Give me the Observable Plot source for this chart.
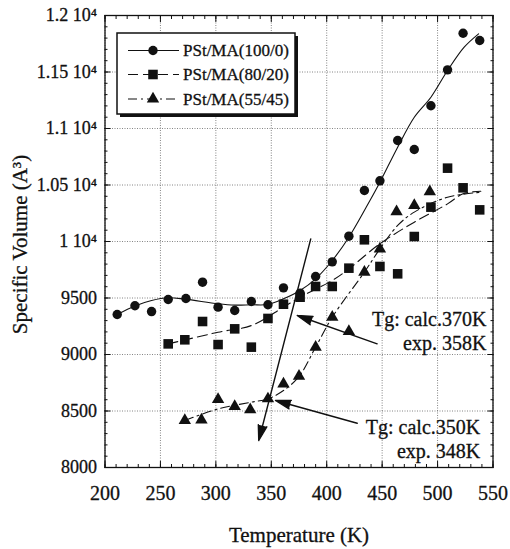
<!DOCTYPE html>
<html>
<head>
<meta charset="utf-8">
<script src="https://cdn.jsdelivr.net/npm/d3@7"></script>
<script src="https://cdn.jsdelivr.net/npm/@observablehq/plot@0.6"></script>
<style>
  body { margin: 0; background: #fff; }
  #chart svg { font-family: "Liberation Serif", "DejaVu Serif", serif; background: #fff; }
</style>
</head>
<body>
<div id="chart"></div>
<script>
// Series names
const seriesNames = ["PSt/MA(100/0)", "PSt/MA(80/20)", "PSt/MA(55/45)"];

// PSt/MA(100/0): measured points
const temp100 = [211, 227, 242, 257, 273, 288, 302, 317, 332, 347, 361, 376, 390, 405, 420, 434, 448, 464, 479, 494, 509, 523, 538];
const vol100  = [9354, 9431, 9380, 9487, 9496, 9640, 9419, 9389, 9469, 9440, 9590, 9543, 9690, 9820, 10047, 10451, 10537, 10894, 10814, 11201, 11519, 11843, 11779];

// PSt/MA(80/20): measured points
const temp80 = [257, 272, 288, 302, 317, 332, 347, 361, 376, 390, 405, 420, 434, 448, 464, 479, 494, 509, 523, 538];
const vol80  = [9094, 9130, 9292, 9088, 9227, 9065, 9319, 9445, 9507, 9602, 9602, 9764, 10015, 9779, 9714, 10044, 10304, 10649, 10475, 10280];

// PSt/MA(55/45): measured points
const temp55 = [272, 287, 302, 317, 331, 347, 361, 375, 390, 405, 420, 434, 448, 463, 479, 493];
const vol55  = [8416, 8422, 8602, 8540, 8511, 8608, 8740, 8808, 9065, 9330, 9204, 9729, 9935, 10265, 10319, 10442];

// Fitted curves
const fitT100 = [211, 227, 242, 257, 272, 302, 317, 332, 347, 361, 376, 390, 405, 420, 439, 448, 464, 479, 494, 509, 524, 537];
const fitV100 = [9354, 9430, 9478, 9502, 9490, 9449, 9437, 9440, 9443, 9493, 9567, 9670, 9832, 10038, 10363, 10525, 10835, 11100, 11277, 11513, 11720, 11838];
const fitT80 = [257, 302, 332, 361, 376, 405, 420, 448, 479, 509, 523, 539];
const fitV80 = [9094, 9197, 9256, 9419, 9507, 9655, 9758, 9980, 10171, 10333, 10422, 10445];
const fitT55 = [272, 302, 332, 347, 361, 375, 390, 405, 434, 448, 464, 479, 509, 539];
const fitV55 = [8416, 8519, 8578, 8608, 8681, 8805, 9065, 9330, 9729, 9935, 10142, 10260, 10392, 10436];

// Axis ticks
const xTicks = [200, 250, 300, 350, 400, 450, 500, 550];
const yTicks = [8000, 8500, 9000, 9500, 10000, 10500, 11000, 11500, 12000];
const xMinor = d3.range(200, 551, 10);
const yMinor = d3.range(8000, 12001, 100);

// Glass-transition annotations: arrow tail (label side) -> head (Tg point)
const tgLabels = ["Tg: calc.370K\nexp. 358K", "Tg: calc.350K\nexp. 348K"];
const tgFromT = [445.5, 427.5];
const tgFromV = [9094, 8392];
const tgToT = [373.4, 353.8];
const tgToV = [9345, 8593];
const tgTextT = [544, 538.5];
const tgTextV = [9212, 8258];

// Steep tangent line drawn through the glassy/rubbery crossing
const tangentT = [385.6, 338.7];
const tangentV = [10023, 8239];

const symbols = ["circle", "square", "triangle"];
const dashes = [null, "10,5", "9,4,2,4"];
const radii = [4.7, 5.4, 4.6];
const serif = "Liberation Serif, DejaVu Serif, serif";
const ink = "#111";

const toRows = (T, V) => T.map((t, i) => ({t, v: V[i]}));
const points = [toRows(temp100, vol100), toRows(temp80, vol80), toRows(temp55, vol55)];
const fits = [toRows(fitT100, fitV100), toRows(fitT80, fitV80), toRows(fitT55, fitV55)];
const tgRows = tgLabels.map((label, i) => ({
  label, t1: tgFromT[i], v1: tgFromV[i], t2: tgToT[i], v2: tgToV[i], tx: tgTextT[i], vx: tgTextV[i]
}));
const tangent = [{t1: tangentT[0], v1: tangentV[0], t2: tangentT[1], v2: tangentV[1]}];

const yFormat = d => d >= 10000 ? `${d / 10000} 10\u2074` : `${d}`;
const textStyle = {fontFamily: serif, fill: ink, stroke: ink, strokeWidth: 0.3};

const marks = [
  Plot.gridX(xTicks, {stroke: "#666", strokeOpacity: 1, strokeDasharray: "1,1.5", strokeWidth: 0.8}),
  Plot.gridY(yTicks, {stroke: "#666", strokeOpacity: 1, strokeDasharray: "1,1.5", strokeWidth: 0.8}),
  // inward minor ticks on all four sides
  Plot.axisX(xMinor, {anchor: "bottom", tickSize: -3, tickFormat: () => "", label: null}),
  Plot.axisX(xMinor, {anchor: "top", tickSize: -3, tickFormat: () => "", label: null}),
  Plot.axisY(yMinor, {anchor: "left", tickSize: -3, tickFormat: () => "", label: null}),
  Plot.axisY(yMinor, {anchor: "right", tickSize: -3, tickFormat: () => "", label: null}),
  // inward major ticks
  Plot.axisX(xTicks, {anchor: "bottom", tickSize: -6, tickFormat: () => "", label: null}),
  Plot.axisX(xTicks, {anchor: "top", tickSize: -6, tickFormat: () => "", label: null}),
  Plot.axisY(yTicks, {anchor: "left", tickSize: -6, tickFormat: () => "", label: null}),
  Plot.axisY(yTicks, {anchor: "right", tickSize: -6, tickFormat: () => "", label: null}),
  // tick labels
  Plot.text(xTicks, {x: d => d, frameAnchor: "bottom", dy: 26, lineAnchor: "middle", textAnchor: "middle", fontSize: 20, ...textStyle}),
  Plot.text(yTicks, {y: d => d, text: yFormat, frameAnchor: "left", dx: -8, textAnchor: "end", lineAnchor: "middle", fontSize: 18, ...textStyle}),
  Plot.frame({stroke: ink, strokeWidth: 1.3}),
  // axis titles
  Plot.text(["Temperature (K)"], {frameAnchor: "bottom", dy: 68, lineAnchor: "middle", textAnchor: "middle", fontSize: 21, ...textStyle}),
  Plot.text(["Specific Volume (A\u00B3)"], {frameAnchor: "left", dx: -84.5, dy: 3, rotate: -90, lineAnchor: "middle", textAnchor: "middle", fontSize: 21, ...textStyle})
];

fits.forEach((rows, i) => {
  marks.push(Plot.line(rows, {x: "t", y: "v", curve: "catmull-rom", stroke: ink, strokeWidth: 1.1, strokeDasharray: dashes[i]}));
});
points.forEach((rows, i) => {
  marks.push(Plot.dot(rows, {x: "t", y: "v", symbol: () => symbols[i], r: radii[i], fill: ink, stroke: "none"}));
});

marks.push(
  Plot.arrow(tangent, {x1: "t1", y1: "v1", x2: "t2", y2: "v2", stroke: ink, fill: ink, strokeWidth: 1.4, headLength: 17, headAngle: 32}),
  Plot.arrow(tgRows, {x1: "t1", y1: "v1", x2: "t2", y2: "v2", stroke: ink, fill: ink, strokeWidth: 1.4, headLength: 17, headAngle: 32}),
  Plot.text(tgRows, {x: "tx", y: "vx", text: "label", textAnchor: "end", lineAnchor: "middle", lineHeight: 1.2, fontSize: 20, ...textStyle})
);

const chart = Plot.plot({
  width: 510,
  height: 549,
  marginLeft: 104.5,
  marginRight: 17.5,
  marginTop: 15,
  marginBottom: 82,
  x: {domain: [200, 550]},
  y: {domain: [8000, 12000]},
  style: {fontFamily: serif, color: ink, background: "#fff"},
  marks
});

// Legend box with a drop shadow, drawn into the same SVG
const svg = d3.select(chart);
const legend = svg.append("g").attr("transform", "translate(117,33)")
  .attr("font-family", serif).attr("text-anchor", "start");
legend.append("rect").attr("x", 3).attr("y", 3).attr("width", 178).attr("height", 81).attr("fill", ink);
legend.append("rect").attr("x", 0).attr("y", 0).attr("width", 178).attr("height", 81).attr("fill", "#fff").attr("stroke", ink).attr("stroke-width", 1.5);
const rowY = [17.5, 41.5, 66];
seriesNames.forEach((name, i) => {
  const g = legend.append("g").attr("transform", `translate(0,${rowY[i]})`);
  g.append("line").attr("x1", 11).attr("x2", 62).attr("y1", 0).attr("y2", 0)
    .attr("stroke", ink).attr("stroke-width", 1.1).attr("stroke-dasharray", dashes[i]);
  const sym = {circle: d3.symbolCircle, square: d3.symbolSquare, triangle: d3.symbolTriangle}[symbols[i]];
  g.append("path").attr("transform", "translate(36,0)")
    .attr("d", d3.symbol(sym, radii[i] * radii[i] * Math.PI)()).attr("fill", ink);
  g.append("text").attr("x", 66).attr("y", 0).attr("dy", "0.35em").attr("text-anchor", "start")
    .attr("font-size", 17).attr("fill", ink).attr("stroke", ink).attr("stroke-width", 0.3).text(name);
});

document.getElementById("chart").append(chart);
</script>
</body>
</html>
